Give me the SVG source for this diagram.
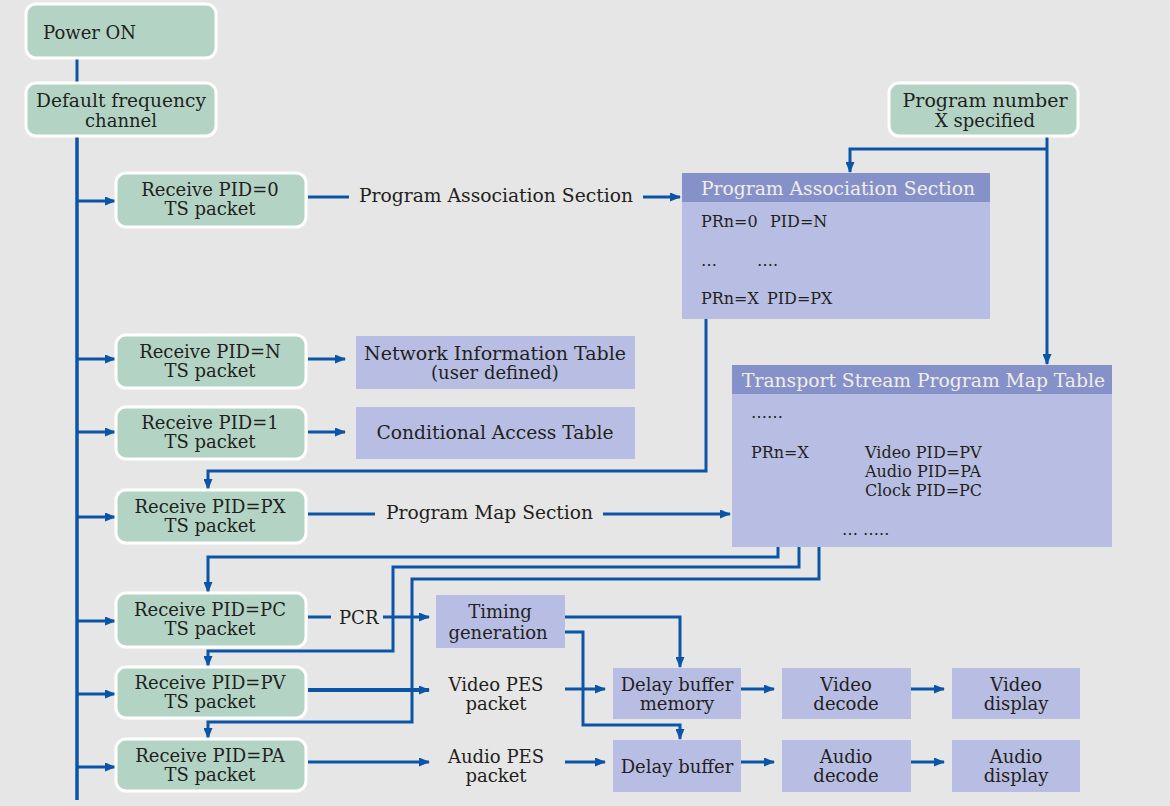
<svg xmlns="http://www.w3.org/2000/svg" width="1170" height="806" viewBox="0 0 1170 806">
<style>
text{font-family:"DejaVu Serif","Liberation Serif",serif;font-size:18px;fill:#231f20}
.c{text-anchor:middle}
.s{font-size:16px}
.hd{fill:#f1eee8}
.g{fill:#b3d4c5;stroke:#ffffff;stroke-width:3}
.p{fill:#b8bee3}
.h{fill:#8691c9}
.ln{fill:none;stroke:#0b55a6;stroke-width:3;stroke-linejoin:miter}
.ar{marker-end:url(#ah)}
</style>
<defs>
<marker id="ah" markerUnits="userSpaceOnUse" markerWidth="11" markerHeight="9" refX="10" refY="4.5" orient="auto">
<path d="M0,0 L11,4.5 L0,9 z" fill="#0b55a6"/>
</marker>
</defs>
<rect x="0" y="0" width="1170" height="806" fill="#e6e6e6"/>

<g id="connectors">
<path class="ln" d="M77,58 V83"/>
<path class="ln" d="M77,136 V800" style="stroke-width:3.5"/>
<path class="ln ar" d="M77,201 H115"/>
<path class="ln ar" d="M77,359 H115"/>
<path class="ln ar" d="M77,432 H115"/>
<path class="ln ar" d="M77,517 H115"/>
<path class="ln ar" d="M77,621 H115"/>
<path class="ln ar" d="M77,694 H115"/>
<path class="ln ar" d="M77,767 H115"/>
<path class="ln" d="M308,197 H349"/>
<path class="ln ar" d="M643,197 H680"/>
<path class="ln ar" d="M1047,123 V364"/>
<path class="ln ar" d="M1047,149 H850 V172"/>
<path class="ln ar" d="M706,314 V471 H208 V489"/>
<path class="ln ar" d="M308,359 H345"/>
<path class="ln ar" d="M308,432 H345"/>
<path class="ln" d="M308,514 H375"/>
<path class="ln ar" d="M603,514 H730"/>
<path class="ln ar" d="M778,535 V557 H208 V592"/>
<path class="ln ar" d="M799,535 V567 H393 V651 H208 V666"/>
<path class="ln ar" d="M819,539 V579 H412 V722 H208 V738"/>
<path class="ln" d="M308,617 H331"/>
<path class="ln ar" d="M383,617 H429"/>
<path class="ln ar" d="M565,617 H680 V667"/>
<path class="ln ar" d="M556,632 H583 V725 H680 V739"/>
<path class="ln ar" d="M308,690 H429" style="stroke-width:4"/>
<path class="ln ar" d="M565,689 H605"/>
<path class="ln ar" d="M741,689 H774"/>
<path class="ln ar" d="M911,689 H944"/>
<path class="ln ar" d="M308,762 H429"/>
<path class="ln ar" d="M565,762 H605"/>
<path class="ln ar" d="M741,762 H774"/>
<path class="ln ar" d="M911,762 H944"/>
<text x="359" y="202" textLength="274" lengthAdjust="spacingAndGlyphs">Program Association Section</text>
<text x="386" y="519" textLength="207" lengthAdjust="spacingAndGlyphs">Program Map Section</text>
<text x="339" y="624">PCR</text>
</g>

<g id="power-on">
<rect class="g" x="26" y="4" width="190" height="54" rx="10"/>
<text x="43" y="39">Power ON</text>
</g>
<g id="default-freq">
<rect class="g" x="26" y="83" width="190" height="53" rx="10"/>
<text class="c" x="121" y="107" textLength="170" lengthAdjust="spacingAndGlyphs">Default frequency</text>
<text class="c" x="121" y="127">channel</text>
</g>
<g id="program-number">
<rect class="g" x="889" y="83" width="189" height="53" rx="10"/>
<text class="c" x="985" y="107" textLength="165" lengthAdjust="spacingAndGlyphs">Program number</text>
<text class="c" x="985" y="127">X specified</text>
</g>

<g id="rx-pid0">
<rect class="g" x="116" y="173" width="190" height="54" rx="10"/>
<text class="c" x="210" y="196">Receive PID=0</text>
<text class="c" x="210" y="215">TS packet</text>
</g>
<g id="rx-pidN">
<rect class="g" x="116" y="335" width="190" height="53" rx="10"/>
<text class="c" x="210" y="358">Receive PID=N</text>
<text class="c" x="210" y="377">TS packet</text>
</g>
<g id="rx-pid1">
<rect class="g" x="116" y="407" width="190" height="52" rx="10"/>
<text class="c" x="210" y="429">Receive PID=1</text>
<text class="c" x="210" y="448">TS packet</text>
</g>
<g id="rx-pidPX">
<rect class="g" x="116" y="490" width="190" height="53" rx="10"/>
<text class="c" x="210" y="513">Receive PID=PX</text>
<text class="c" x="210" y="532">TS packet</text>
</g>
<g id="rx-pidPC">
<rect class="g" x="116" y="593" width="190" height="54" rx="10"/>
<text class="c" x="210" y="616">Receive PID=PC</text>
<text class="c" x="210" y="635">TS packet</text>
</g>
<g id="rx-pidPV">
<rect class="g" x="116" y="667" width="190" height="51" rx="10"/>
<text class="c" x="210" y="689">Receive PID=PV</text>
<text class="c" x="210" y="708">TS packet</text>
</g>
<g id="rx-pidPA">
<rect class="g" x="116" y="739" width="190" height="52" rx="10"/>
<text class="c" x="210" y="762">Receive PID=PA</text>
<text class="c" x="210" y="781">TS packet</text>
</g>

<g id="pas-table">
<rect class="p" x="682" y="173" width="308" height="146"/>
<rect class="h" x="682" y="173" width="308" height="29"/>
<text class="hd" x="701" y="195" textLength="274" lengthAdjust="spacingAndGlyphs">Program Association Section</text>
<text class="s" x="701" y="227">PRn=0</text>
<text class="s" x="770" y="227">PID=N</text>
<text class="s" x="701" y="266">…</text>
<text class="s" x="757" y="266">….</text>
<text class="s" x="701" y="304">PRn=X</text>
<text class="s" x="767" y="304">PID=PX</text>
</g>

<g id="nit">
<rect class="p" x="356" y="336" width="279" height="53"/>
<text class="c" x="495" y="360" textLength="262" lengthAdjust="spacingAndGlyphs">Network Information Table</text>
<text class="c" x="495" y="379">(user defined)</text>
</g>
<g id="cat">
<rect class="p" x="356" y="407" width="279" height="52"/>
<text class="c" x="495" y="439" textLength="237" lengthAdjust="spacingAndGlyphs">Conditional Access Table</text>
</g>

<g id="tspmt">
<rect class="p" x="732" y="365" width="380" height="182"/>
<rect class="h" x="732" y="365" width="380" height="29"/>
<text class="hd" x="742" y="387" textLength="363" lengthAdjust="spacingAndGlyphs">Transport Stream Program Map Table</text>
<text class="s" x="751" y="418">……</text>
<text class="s" x="751" y="458">PRn=X</text>
<text class="s" x="865" y="458">Video PID=PV</text>
<text class="s" x="865" y="477">Audio PID=PA</text>
<text class="s" x="865" y="496">Clock PID=PC</text>
<text class="s" x="842" y="535">… …..</text>
</g>

<g id="timing">
<rect class="p" x="436" y="595" width="129" height="53"/>
<text class="c" x="500" y="618">Timing</text>
<text class="c" x="498" y="639">generation</text>
</g>
<g id="video-pes">
<text class="c" x="496" y="691">Video PES</text>
<text class="c" x="496" y="710">packet</text>
</g>
<g id="audio-pes">
<text class="c" x="496" y="763">Audio PES</text>
<text class="c" x="496" y="782">packet</text>
</g>
<g id="delay-mem">
<rect class="p" x="613" y="668" width="128" height="51"/>
<text class="c" x="677" y="691">Delay buffer</text>
<text class="c" x="677" y="710">memory</text>
</g>
<g id="delay-buf">
<rect class="p" x="613" y="740" width="128" height="52"/>
<text class="c" x="677" y="773">Delay buffer</text>
</g>
<g id="video-decode">
<rect class="p" x="782" y="668" width="129" height="51"/>
<text class="c" x="846" y="691">Video</text>
<text class="c" x="846" y="710">decode</text>
</g>
<g id="video-display">
<rect class="p" x="952" y="668" width="128" height="51"/>
<text class="c" x="1016" y="691">Video</text>
<text class="c" x="1016" y="710">display</text>
</g>
<g id="audio-decode">
<rect class="p" x="782" y="740" width="129" height="52"/>
<text class="c" x="846" y="763">Audio</text>
<text class="c" x="846" y="782">decode</text>
</g>
<g id="audio-display">
<rect class="p" x="952" y="740" width="128" height="52"/>
<text class="c" x="1016" y="763">Audio</text>
<text class="c" x="1016" y="782">display</text>
</g>
</svg>
